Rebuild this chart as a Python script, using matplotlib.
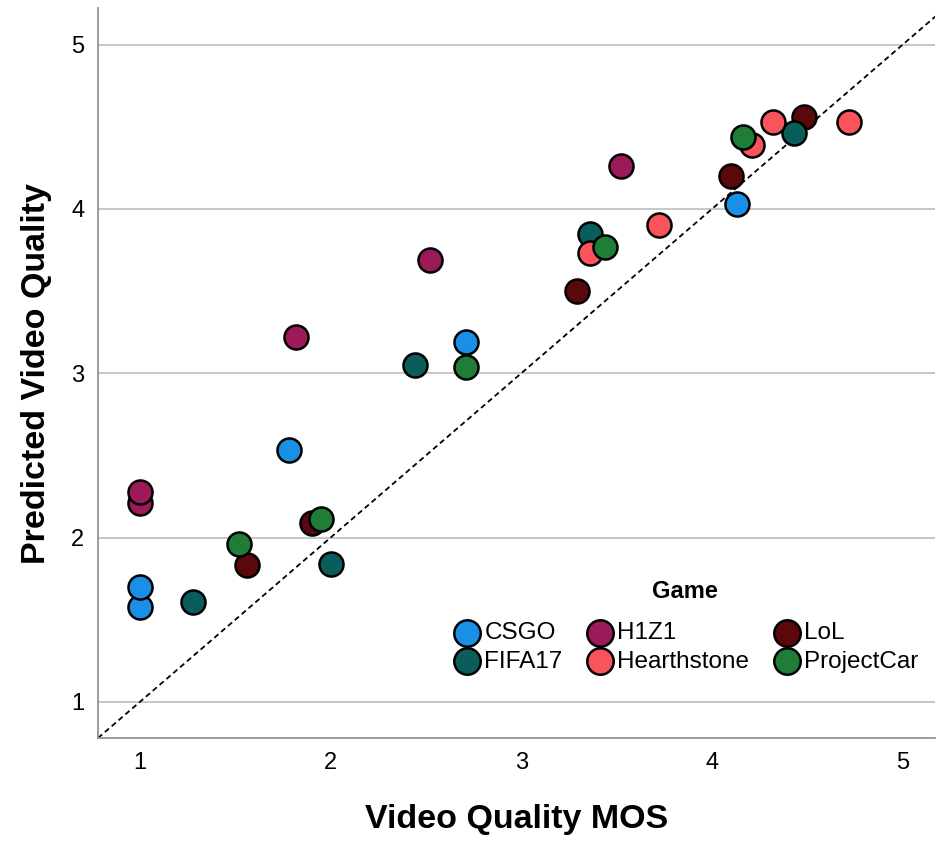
import matplotlib.pyplot as plt
import numpy as np

plt.rcParams['font.family'] = ['Liberation Sans', 'DejaVu Sans']

games = ["CSGO", "H1Z1", "LoL", "FIFA17", "Hearthstone", "ProjectCar"]
colors = ["#1a8fe6", "#9c1a57", "#5a080c", "#0b5d5c", "#f9535b", "#1f7d38"]

# Video quality MOS (x) and predicted quality (y) per game
csgo_x = [1.0, 1.0, 1.78, 2.71, 4.13]
csgo_y = [1.58, 1.70, 2.53, 3.19, 4.03]
h1z1_x = [1.0, 1.0, 1.82, 2.52, 3.52]
h1z1_y = [2.21, 2.28, 3.22, 3.69, 4.26]
lol_x = [1.56, 1.90, 3.29, 4.10, 4.48]
lol_y = [1.83, 2.09, 3.50, 4.20, 4.56]
fifa_x = [1.28, 2.00, 2.44, 3.36, 4.43]
fifa_y = [1.61, 1.84, 3.05, 3.85, 4.46]
hearth_x = [3.36, 3.72, 4.21, 4.32, 4.72]
hearth_y = [3.73, 3.90, 4.39, 4.53, 4.53]
pcar_x = [1.52, 1.95, 2.71, 3.44, 4.16]
pcar_y = [1.96, 2.11, 3.04, 3.77, 4.44]

xs = [csgo_x, h1z1_x, lol_x, fifa_x, hearth_x, pcar_x]
ys = [csgo_y, h1z1_y, lol_y, fifa_y, hearth_y, pcar_y]

fig = plt.figure(figsize=(9.38, 8.41), dpi=100)
ax = fig.add_axes([0.1045, 0.1225, 0.8925, 0.8675])

lo, hi = 0.78, 5.2
ax.plot([lo, hi], [lo, hi], ls=(0, (3, 2)), color="black", lw=1.3, zorder=1)

handles = {}
for g, c, x, y in zip(games, colors, xs, ys):
    handles[g] = ax.scatter(x, y, s=300, color=c, edgecolors="black",
                            linewidths=1.8, label=g, zorder=3)

ax.set_xlim(0.78, 5.17)
ax.set_ylim(0.78, 5.22)
ax.set_xticks([1, 2, 3, 4, 5])
ax.set_yticks([1, 2, 3, 4, 5])
ax.tick_params(length=0, labelsize=17, pad=10)
ax.yaxis.grid(True, color="#bdbdbd", lw=1.2)
ax.set_axisbelow(True)
for s in ["top", "right"]:
    ax.spines[s].set_visible(False)
for s in ["left", "bottom"]:
    ax.spines[s].set_color("#8a8a8a")
    ax.spines[s].set_linewidth(1.2)

ax.set_xlabel("Video Quality MOS", fontsize=24.5, fontweight="bold", labelpad=22)
ax.set_ylabel("Predicted Video Quality", fontsize=24.5, fontweight="bold", labelpad=14)

# legend fills column-wise, so order for row-wise reading
order = ["CSGO", "FIFA17", "H1Z1", "Hearthstone", "LoL", "ProjectCar"]
leg = ax.legend([handles[g] for g in order], order, ncol=3,
                loc="lower right", bbox_to_anchor=(1.0, 0.066),
                frameon=False, title="Game", fontsize=17.5,
                handlelength=1.2, handletextpad=0.1,
                columnspacing=0.95, labelspacing=0.28, borderpad=0.2,
                markerscale=1.1)
leg.get_title().set_fontweight("bold")
leg.get_title().set_fontsize(17)
leg._legend_box.sep = 14

fig.savefig("out.png", dpi=100)
